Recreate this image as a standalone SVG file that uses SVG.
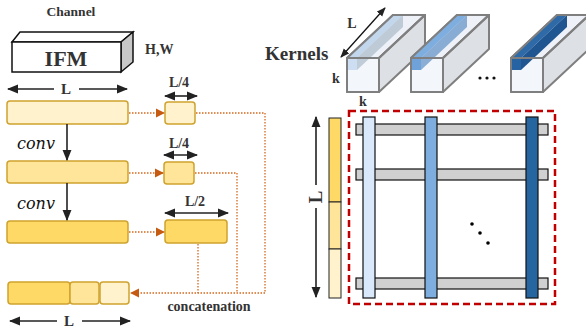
<svg xmlns="http://www.w3.org/2000/svg" width="586" height="333" viewBox="0 0 586 333">
<style>
.lbl{font-family:"Liberation Serif",serif;font-weight:bold;fill:#333}
.bar{stroke:#cfa22e;stroke-width:1.5}
.y1{fill:#fff2cc}.y2{fill:#ffe599}.y3{fill:#ffd966}
.dot{fill:none;stroke:#d4691e;stroke-width:1.3;stroke-dasharray:1.5 1.5}
.blk{stroke:#222;stroke-width:1.6;fill:none}
.kb{stroke:#7f7f7f;stroke-width:2;stroke-linejoin:round}
.gb{fill:#d0d0d0;stroke:#111;stroke-width:1.2}
.vb{stroke:#111;stroke-width:1.2}
.cv{font-family:"DejaVu Serif",serif;font-style:italic;font-size:16px;fill:#111}
</style>
<defs>
<marker id="ah" viewBox="0 0 10 10" refX="9" refY="5" markerWidth="7" markerHeight="7" orient="auto-start-reverse"><path d="M0,1 L10,5 L0,9 z" fill="#222"/></marker>
<marker id="ao" viewBox="0 0 10 10" refX="9" refY="5" markerWidth="7" markerHeight="7" orient="auto"><path d="M0,0 L10,5 L0,10 z" fill="#c55a11"/></marker>
</defs>

<g id="ifm">
<text class="lbl" x="71" y="16" font-size="13.5" text-anchor="middle" fill="#555">Channel</text>
<polygon points="12,42 20,32 133,32 121,42" fill="#fff" stroke="#111" stroke-width="1.5"/>
<polygon points="121,42 133,32 133,62 121,72" fill="#c8c8c8" stroke="#111" stroke-width="1.5"/>
<rect x="12" y="42" width="109" height="30" fill="#fff" stroke="#111" stroke-width="1.5"/>
<text class="lbl" x="66" y="66" font-size="22" text-anchor="middle" fill="#111">IFM</text>
<text class="lbl" x="145" y="54" font-size="14">H,W</text>
</g>

<g id="dim-top">
<line class="blk" x1="54" y1="89" x2="8" y2="89" marker-end="url(#ah)"/>
<line class="blk" x1="79" y1="89" x2="127" y2="89" marker-end="url(#ah)"/>
<text class="lbl" x="66" y="94" font-size="15" text-anchor="middle">L</text>
</g>

<g id="bar1"><rect class="bar y1" x="7" y="101" width="121" height="23" rx="3"/></g>
<g id="bar2"><rect class="bar y2" x="7" y="161" width="121" height="22" rx="3"/></g>
<g id="bar3"><rect class="bar y3" x="7" y="221" width="121" height="22" rx="3"/></g>
<text class="cv" x="17" y="149">conv</text>
<text class="cv" x="17" y="209">conv</text>

<g id="boxA"><rect class="bar y1" x="165" y="102" width="30" height="22" rx="3"/>
<text class="lbl" x="179" y="87" font-size="14" text-anchor="middle">L/4</text>
<line class="blk" x1="165" y1="96" x2="197" y2="96" marker-start="url(#ah)" marker-end="url(#ah)"/></g>
<g id="boxB"><rect class="bar y2" x="164" y="162" width="30" height="22" rx="3"/>
<text class="lbl" x="179" y="148" font-size="14" text-anchor="middle">L/4</text>
<line class="blk" x1="164" y1="155" x2="197" y2="155" marker-start="url(#ah)" marker-end="url(#ah)"/></g>
<g id="boxC"><rect class="bar y3" x="165" y="220" width="62" height="23" rx="3"/>
<text class="lbl" x="195" y="206" font-size="14" text-anchor="middle">L/2</text>
<line class="blk" x1="165" y1="213" x2="228" y2="213" marker-start="url(#ah)" marker-end="url(#ah)"/></g>

<g id="concat">
<rect class="bar y3" x="8" y="282" width="62" height="22" rx="3"/>
<rect class="bar y2" x="70" y="282" width="29" height="22" rx="3"/>
<rect class="bar y1" x="100" y="282" width="29" height="22" rx="3"/>
<text class="lbl" x="209" y="311" font-size="14" text-anchor="middle" fill="#444">concatenation</text>
<line class="blk" x1="57" y1="321" x2="10" y2="321" marker-end="url(#ah)"/>
<line class="blk" x1="82" y1="321" x2="130" y2="321" marker-end="url(#ah)"/>
<text class="lbl" x="69" y="326" font-size="15" text-anchor="middle">L</text>
</g>

<g id="connectors">
<line class="blk" x1="67" y1="124" x2="67" y2="160" marker-end="url(#ah)"/>
<line class="blk" x1="67" y1="183" x2="67" y2="220" marker-end="url(#ah)"/>
<line class="dot" x1="129" y1="113" x2="164" y2="113" marker-end="url(#ao)"/>
<line class="dot" x1="129" y1="173" x2="163" y2="173" marker-end="url(#ao)"/>
<line class="dot" x1="129" y1="232" x2="164" y2="232" marker-end="url(#ao)"/>
<polyline class="dot" points="196,113 265,113 265,293"/>
<polyline class="dot" points="195,173 237,173 237,293"/>
<line class="dot" x1="198" y1="244" x2="198" y2="293"/>
<line class="dot" x1="265" y1="293" x2="131" y2="293" marker-end="url(#ao)"/>
</g>

<g id="kernels">
<text class="lbl" x="265" y="60" font-size="19">Kernels</text>
<line x1="341" y1="57" x2="385" y2="8" stroke="#111" stroke-width="1.3" marker-start="url(#ah)" marker-end="url(#ah)"/>
<text class="lbl" x="352" y="28" font-size="14" text-anchor="middle">L</text>
<text class="lbl" x="332" y="83" font-size="14">k</text>
<text class="lbl" x="359" y="106" font-size="14">k</text>
<circle cx="480" cy="78" r="1.6" fill="#111"/><circle cx="487" cy="78" r="1.6" fill="#111"/><circle cx="494" cy="78" r="1.6" fill="#111"/>
</g>
<g id="kernel1" transform="translate(347,58)">
<polygon class="kb" points="0,0 46,-43 78,-43 32,0" fill="#eef2f8"/>
<polygon class="kb" points="32,0 78,-43 78,-9 32,34" fill="#dde0e4"/>
<rect class="kb" x="0" y="0" width="32" height="34" fill="#f3f6fb"/>
<polygon points="0,0 46,-43 56,-43 10,0" fill="#b8cfe9" opacity="0.8"/>
<polygon points="10,0 56,-43 56,-31 10,12" fill="#9fb0c0" opacity="0.6"/>
<rect x="0" y="0" width="10" height="12" fill="#c9dcf2" opacity="0.9"/>
<polygon class="kb" points="0,0 46,-43 78,-43 32,0" fill="none"/>
<rect class="kb" x="0" y="0" width="32" height="34" fill="none"/>
</g>
<g id="kernel2" transform="translate(411,58)">
<polygon class="kb" points="0,0 46,-43 78,-43 32,0" fill="#eef2f8"/>
<polygon class="kb" points="32,0 78,-43 78,-9 32,34" fill="#dde0e4"/>
<rect class="kb" x="0" y="0" width="32" height="34" fill="#f3f6fb"/>
<polygon points="0,0 46,-43 56,-43 10,0" fill="#7eaee0"/>
<polygon points="10,0 56,-43 56,-31 10,12" fill="#5d8fc4" opacity="0.7"/>
<rect x="0" y="0" width="10" height="12" fill="#6fa2d8"/>
<polygon class="kb" points="0,0 46,-43 78,-43 32,0" fill="none"/>
<rect class="kb" x="0" y="0" width="32" height="34" fill="none"/>
</g>
<g id="kernel3" transform="translate(511,58)">
<polygon class="kb" points="0,0 46,-43 78,-43 32,0" fill="#eef2f8"/>
<polygon class="kb" points="32,0 78,-43 78,-9 32,34" fill="#dde0e4"/>
<rect class="kb" x="0" y="0" width="32" height="34" fill="#f3f6fb"/>
<polygon points="0,0 46,-43 56,-43 10,0" fill="#2e6aa8"/>
<polygon points="10,0 56,-43 56,-31 10,12" fill="#1f5590"/>
<rect x="0" y="0" width="10" height="12" fill="#2563a3"/>
<polygon class="kb" points="0,0 46,-43 78,-43 32,0" fill="none"/>
<rect class="kb" x="0" y="0" width="32" height="34" fill="none"/>
</g>

<g id="grid">
<rect x="349" y="111" width="206" height="193" fill="none" stroke="#c00000" stroke-width="2.5" stroke-dasharray="7 4"/>
<rect class="gb" x="356" y="124" width="192" height="11"/>
<rect class="gb" x="356" y="169" width="192" height="11"/>
<rect class="gb" x="356" y="278" width="192" height="11"/>
<rect class="vb" x="363" y="117" width="12" height="181" fill="#dae8fc"/>
<rect class="vb" x="425" y="117" width="12" height="181" fill="#7eaee0"/>
<rect class="vb" x="526" y="117" width="12" height="181" fill="#2666a0"/>
<circle cx="472" cy="224" r="1.8" fill="#000"/>
<circle cx="480" cy="233" r="1.8" fill="#000"/>
<circle cx="488" cy="243" r="1.8" fill="#000"/>
</g>

<g id="column">
<rect x="329" y="118" width="12" height="84" fill="#ffd966" stroke="#222" stroke-width="1"/>
<rect x="329" y="202" width="12" height="47" fill="#ffe599" stroke="#222" stroke-width="1"/>
<rect x="329" y="249" width="12" height="49" fill="#fff2cc" stroke="#222" stroke-width="1"/>
<line class="blk" x1="316" y1="185" x2="316" y2="117" marker-end="url(#ah)" stroke-width="2"/>
<line class="blk" x1="316" y1="208" x2="316" y2="297" marker-end="url(#ah)" stroke-width="2"/>
<text class="lbl" x="0" y="0" font-size="19" text-anchor="middle" transform="translate(322,197) rotate(-90)">L</text>
</g>
</svg>
